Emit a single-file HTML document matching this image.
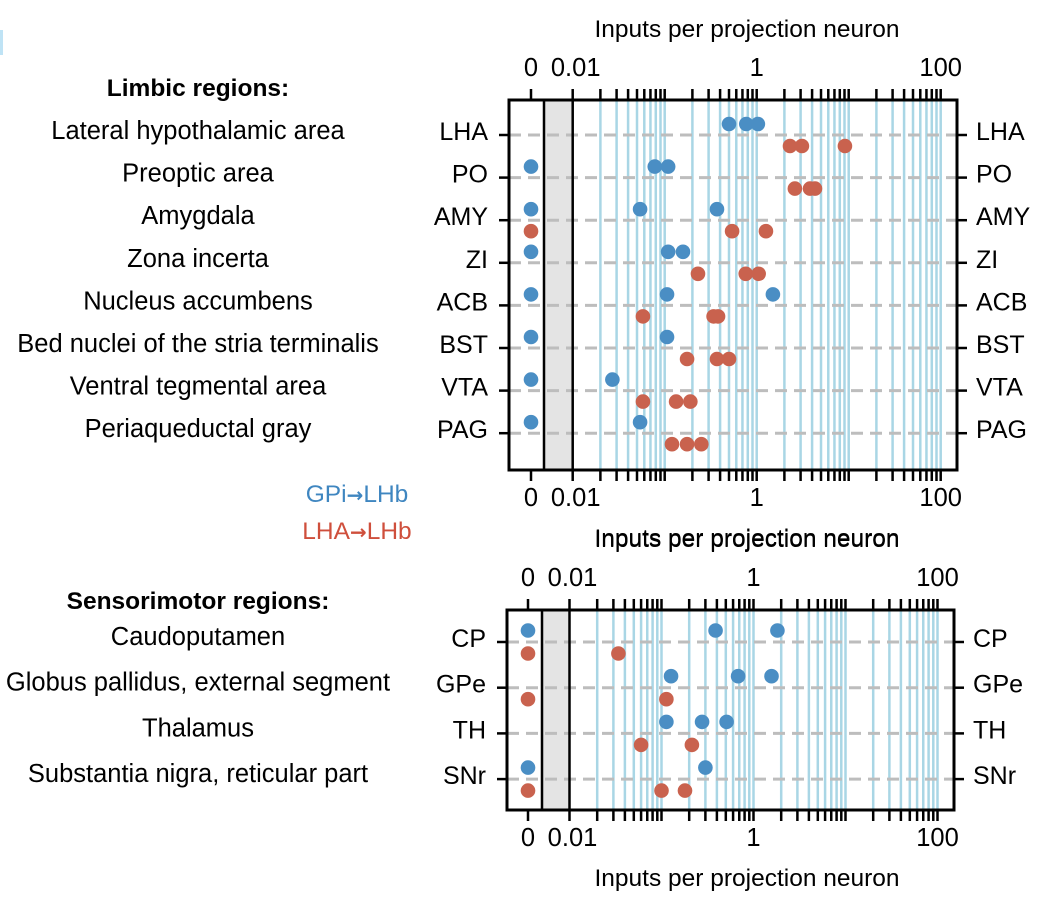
<!DOCTYPE html>
<html><head><meta charset="utf-8"><style>
body{margin:0;background:#fff;width:1055px;height:900px;overflow:hidden}
svg{display:block;font-family:"Liberation Sans",sans-serif}
</style></head><body>
<svg id="chart" width="1055" height="900" viewBox="0 0 1055 900">
<rect x="0" y="30" width="3" height="25" fill="#bfe3f5"/>
</svg>
<script>
// ---- data ----
const limbicAbbr = ["LHA","PO","AMY","ZI","ACB","BST","VTA","PAG"];
const limbicNames = ["Lateral hypothalamic area","Preoptic area","Amygdala","Zona incerta","Nucleus accumbens","Bed nuclei of the stria terminalis","Ventral tegmental area","Periaqueductal gray"];
const limbicGPi = [[0.50,0.77,1.03],[0,0.078,0.109],[0,0.054,0.37],[0,0.109,0.158],[0,0.106,1.5],[0,0.106],[0,0.027],[0,0.054]];
const limbicLHA = [[2.3,3.1,9.1],[2.6,3.8,4.3],[0,0.54,1.26],[0.23,0.76,1.05],[0.058,0.34,0.38],[0.175,0.37,0.50],[0.058,0.133,0.19],[0.12,0.175,0.25]];
const sensAbbr = ["CP","GPe","TH","SNr"];
const sensNames = ["Caudoputamen","Globus pallidus, external segment","Thalamus","Substantia nigra, reticular part"];
const sensGPi = [[0,0.387,1.82],[0.127,0.68,1.57],[0.113,0.276,0.51],[0,0.30]];
const sensLHA = [[0,0.034],[0,0.113],[0.06,0.214],[0,0.10,0.18]];
const tickLabels = ["0","0.01","1","100"];

const svg = document.getElementById('chart');
const NS = "http://www.w3.org/2000/svg";
function mk(tag, attrs, parent){const e=document.createElementNS(NS,tag);for(const k in attrs)e.setAttribute(k,attrs[k]);(parent||svg).appendChild(e);return e;}
function txt(x,y,s,anchor,size,fill,weight){const t=mk('text',{x:x,y:y,'text-anchor':anchor,'font-size':size,fill:fill||'#000','font-weight':weight||'normal'});t.textContent=s;return t;}

function panel(o){
  const dec=92;
  const xs=v=> v===0 ? o.zero : o.x01 + (Math.log10(v)+2)*dec;
  const ys=i=> o.y0 + i*o.step;
  const g=mk('g',{});
  
  
  mk('rect',{x:o.band,y:o.top,width:o.x01-o.band,height:o.bot-o.top,fill:'#e4e4e4'},g);
  const minor=[];
  for(let d=-2;d<2;d++) for(let m=2;m<=10;m++) minor.push(m*Math.pow(10,d));
  minor.forEach(v=>{const l=mk('line',{x1:xs(v),x2:xs(v),y1:o.top,y2:o.bot,stroke:'#a9d6e5','stroke-width':2.5},g);
    
    });
  o.abbr.forEach((a,i)=>{mk('line',{x1:o.left,x2:o.right,y1:ys(i),y2:ys(i),stroke:'#bdbdbd','stroke-width':3,'stroke-dasharray':'12,7'},g);});
  mk('line',{x1:o.band,x2:o.band,y1:o.top,y2:o.bot,stroke:'#000','stroke-width':2.5},g);
  mk('line',{x1:o.x01,x2:o.x01,y1:o.top,y2:o.bot,stroke:'#000','stroke-width':2.5},g);
  const box=mk('rect',{x:o.left,y:o.top,width:o.right-o.left,height:o.bot-o.top,fill:'none',stroke:'#000','stroke-width':3},g);
  
  
  const ticks=[0,0.01].concat(minor);
  ticks.forEach(v=>{
    mk('line',{x1:xs(v),x2:xs(v),y1:o.top-11,y2:o.top,stroke:'#000','stroke-width':2.5},g);
    mk('line',{x1:xs(v),x2:xs(v),y1:o.bot,y2:o.bot+11,stroke:'#000','stroke-width':2.5},g);
  });
  const labVals=[0,0.01,1,100];
  labVals.forEach((v,i)=>{
    const t1=txt(xs(v)+(i===1?3:0),o.top-24,tickLabels[i],'middle',25.5);
    
    
    const t2=txt(xs(v)+(i===1?3:0),o.bot+36,tickLabels[i],'middle',25.5);
    
    
  });
  const tt=txt(747,o.top-63,'Inputs per projection neuron','middle',24.5);
  
  
  const tb=txt(747,o.bot+76,'Inputs per projection neuron','middle',24.5);
  
  
  o.abbr.forEach((a,i)=>{
    mk('line',{x1:o.left-10,x2:o.left,y1:ys(i),y2:ys(i),stroke:'#000','stroke-width':2.5},g);
    mk('line',{x1:o.right,x2:o.right+10,y1:ys(i),y2:ys(i),stroke:'#000','stroke-width':2.5},g);
    const l=txt(o.left-21,ys(i)+5,a,'end',25);
    
    
    const r=txt(o.right+19,ys(i)+5,a,'start',25);
    
    
    const n=txt(198,ys(i)+o.nameOff,o.names[i],'middle',25.5);
    
    
  });
  const h=txt(198,o.top+o.headOff,o.header,'middle',24.5,'#000','bold');
  
  
  o.gpi.forEach((arr,i)=>arr.forEach(v=>{
    const c=mk('circle',{cx:xs(v),cy:ys(i)-o.off,r:7.3,fill:'#4a8ec4'},g);
    
    
  }));
  o.lha.forEach((arr,i)=>arr.forEach(v=>{
    const c=mk('circle',{cx:xs(v),cy:ys(i)+o.off,r:7.3,fill:'#c9624e'},g);
    
    
  }));
}
panel({name:'limbic-panel',abbr:limbicAbbr,names:limbicNames,gpi:limbicGPi,lha:limbicLHA,header:'Limbic regions:',
  left:509,right:957,top:100,bot:470,band:544,x01:572.7,zero:531,y0:135,step:42.6,off:11,nameOff:4,headOff:-4});
panel({name:'sensorimotor-panel',abbr:sensAbbr,names:sensNames,gpi:sensGPi,lha:sensLHA,header:'Sensorimotor regions:',
  left:507,right:954,top:610,bot:810,band:542,x01:569.5,zero:528,y0:642,step:45.7,off:11.5,nameOff:3,headOff:-1});
function legend(y,a,b,fill,name){
  const t=mk('text',{x:357,y:y,'text-anchor':'middle','font-size':24.5,fill:fill});
  
  
  const s1=mk('tspan',{},t); s1.textContent=a;
  const s2=mk('tspan',{'font-family':'DejaVu Sans','font-weight':'bold','font-size':20}); t.appendChild(s2); s2.textContent='\u2192';
  const s3=mk('tspan',{},t); s3.textContent=b;
}
legend(502,'GPi','LHb','#3f86c0','legend-entry-gpi');
legend(539,'LHA','LHb','#cf4f3c','legend-entry-lha');
</script>
</body></html>
